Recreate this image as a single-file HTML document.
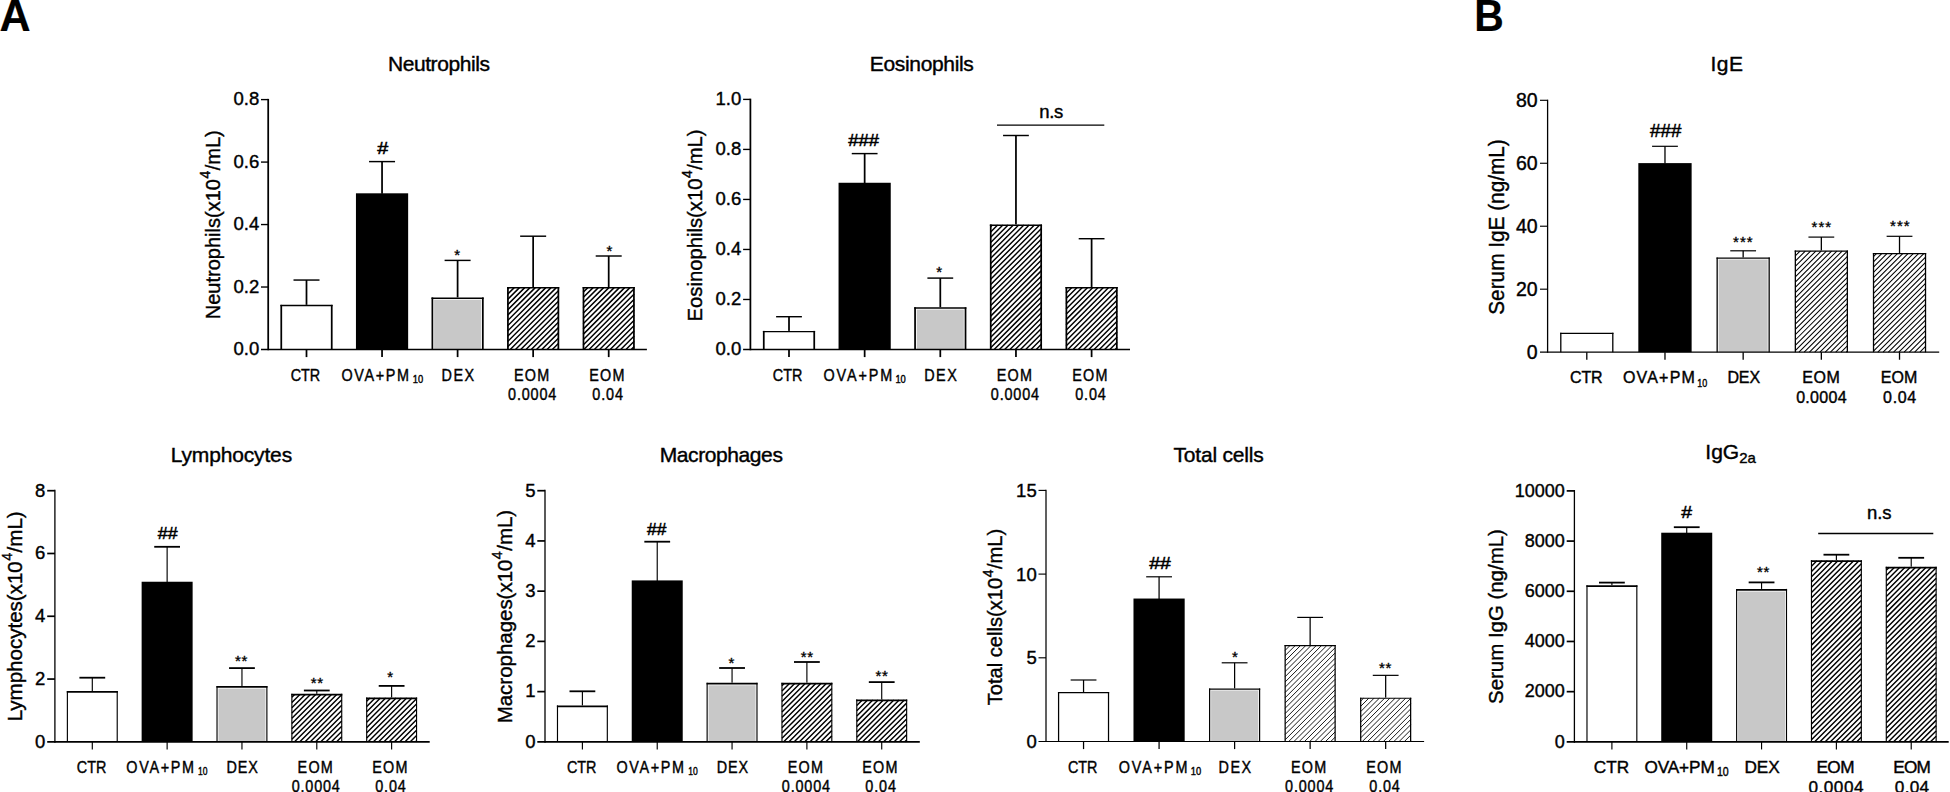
<!DOCTYPE html>
<html lang="en"><head><meta charset="utf-8"><title>Figure: BALF cell counts and serum immunoglobulins</title>
<style>html,body{margin:0;padding:0;background:#fff;overflow:hidden}svg{display:block}text{font-family:"Liberation Sans", Arial, Helvetica, sans-serif;fill:#000;stroke:#000;stroke-width:0.4px;paint-order:stroke}text.s{stroke-width:0.5px}text.a{stroke-width:0.35px}text.p{stroke-width:0.2px}</style></head><body>
<svg width="1950" height="792" viewBox="0 0 1950 792">
<rect width="1950" height="792" fill="#fff"/>
<text transform="translate(-0.4 30.6) scale(0.99 1)" font-size="43.5" font-weight="bold" class="p">A</text>
<text transform="translate(1474.3 30.6) scale(0.94 1)" font-size="43.5" font-weight="bold" class="p">B</text>
<g><!-- Neutrophils -->
<text x="438.9" y="71.2" font-size="21" text-anchor="middle" textLength="102" lengthAdjust="spacing">Neutrophils</text>
<text transform="translate(219.5 224.8) rotate(-90)" font-size="21" text-anchor="middle" textLength="189" lengthAdjust="spacingAndGlyphs">Neutrophils(x10<tspan dx="0.5" dy="-9.5" font-size="14.5">4</tspan><tspan dx="0.5" dy="9.5">/mL)</tspan></text>
<line x1="306.5" y1="305.36" x2="306.5" y2="280.05" stroke="#000" stroke-width="1.75"/>
<line x1="293.5" y1="280.05" x2="319.5" y2="280.05" stroke="#000" stroke-width="1.45"/>
<rect x="280.4" y="304.86" width="52.2" height="44.64" fill="#fff"/>
<line x1="281.27" y1="304.86" x2="281.27" y2="349.5" stroke="#000" stroke-width="1.75"/>
<line x1="331.73" y1="304.86" x2="331.73" y2="349.5" stroke="#000" stroke-width="1.75"/>
<line x1="280.4" y1="305.59" x2="332.6" y2="305.59" stroke="#000" stroke-width="1.45"/>
<line x1="382.05" y1="193.81" x2="382.05" y2="161.6" stroke="#000" stroke-width="1.75"/>
<line x1="369.05" y1="161.6" x2="395.05" y2="161.6" stroke="#000" stroke-width="1.45"/>
<rect x="355.95" y="193.31" width="52.2" height="156.19" fill="#000"/>
<line x1="457.6" y1="297.93" x2="457.6" y2="260.4" stroke="#000" stroke-width="1.75"/>
<line x1="444.6" y1="260.4" x2="470.6" y2="260.4" stroke="#000" stroke-width="1.45"/>
<rect x="431.5" y="297.43" width="52.2" height="52.07" fill="#fff"/>
<rect x="434.1" y="299.73" width="47" height="49.77" fill="#c8c8c8"/>
<line x1="432.38" y1="297.43" x2="432.38" y2="349.5" stroke="#000" stroke-width="1.75"/>
<line x1="482.83" y1="297.43" x2="482.83" y2="349.5" stroke="#000" stroke-width="1.75"/>
<line x1="431.5" y1="298.15" x2="483.7" y2="298.15" stroke="#000" stroke-width="1.45"/>
<line x1="533.15" y1="287.52" x2="533.15" y2="236.2" stroke="#000" stroke-width="1.75"/>
<line x1="520.15" y1="236.2" x2="546.15" y2="236.2" stroke="#000" stroke-width="1.45"/>
<rect x="507.05" y="287.02" width="52.2" height="62.48" fill="#fff"/>
<path d="M507.65 288.95L508.97 287.62M507.65 294.21L514.23 287.62M507.65 299.47L519.49 287.62M507.65 304.73L524.75 287.62M507.65 309.99L530.01 287.62M507.65 315.25L535.27 287.62M507.65 320.51L540.53 287.62M507.65 325.77L545.79 287.62M507.65 331.03L551.05 287.62M507.65 336.29L556.31 287.62M507.65 341.55L558.65 290.55M507.65 346.81L558.65 295.81M510.22 349.5L558.65 301.07M515.48 349.5L558.65 306.33M520.74 349.5L558.65 311.59M526 349.5L558.65 316.85M531.26 349.5L558.65 322.11M536.52 349.5L558.65 327.37M541.78 349.5L558.65 332.63M547.04 349.5L558.65 337.89M552.3 349.5L558.65 343.15M557.56 349.5L558.65 348.41" stroke="#000" stroke-width="1.45" fill="none"/>
<line x1="507.92" y1="287.02" x2="507.92" y2="349.5" stroke="#000" stroke-width="1.75"/>
<line x1="558.38" y1="287.02" x2="558.38" y2="349.5" stroke="#000" stroke-width="1.75"/>
<line x1="507.05" y1="287.75" x2="559.25" y2="287.75" stroke="#000" stroke-width="1.45"/>
<line x1="608.7" y1="287.52" x2="608.7" y2="256" stroke="#000" stroke-width="1.75"/>
<line x1="595.7" y1="256" x2="621.7" y2="256" stroke="#000" stroke-width="1.45"/>
<rect x="582.6" y="287.02" width="52.2" height="62.48" fill="#fff"/>
<path d="M583.2 292.3L587.88 287.62M583.2 297.56L593.13 287.62M583.2 302.82L598.39 287.62M583.2 308.08L603.65 287.62M583.2 313.34L608.91 287.62M583.2 318.6L614.17 287.62M583.2 323.86L619.43 287.62M583.2 329.12L624.69 287.62M583.2 334.38L629.95 287.62M583.2 339.64L634.2 288.64M583.2 344.9L634.2 293.9M583.86 349.5L634.2 299.16M589.12 349.5L634.2 304.42M594.38 349.5L634.2 309.68M599.64 349.5L634.2 314.94M604.9 349.5L634.2 320.2M610.16 349.5L634.2 325.46M615.42 349.5L634.2 330.72M620.68 349.5L634.2 335.98M625.94 349.5L634.2 341.24M631.2 349.5L634.2 346.5" stroke="#000" stroke-width="1.45" fill="none"/>
<line x1="583.48" y1="287.02" x2="583.48" y2="349.5" stroke="#000" stroke-width="1.75"/>
<line x1="633.93" y1="287.02" x2="633.93" y2="349.5" stroke="#000" stroke-width="1.75"/>
<line x1="582.6" y1="287.75" x2="634.8" y2="287.75" stroke="#000" stroke-width="1.45"/>
<line x1="268.2" y1="98.88" x2="268.2" y2="350.23" stroke="#000" stroke-width="1.75"/>
<line x1="261" y1="349.5" x2="646.9" y2="349.5" stroke="#000" stroke-width="1.45"/>
<text x="259.2" y="355.3" font-size="19" text-anchor="end" textLength="25.75" lengthAdjust="spacingAndGlyphs">0.0</text>
<line x1="261" y1="287.02" x2="268.2" y2="287.02" stroke="#000" stroke-width="1.38"/>
<text x="259.2" y="292.82" font-size="19" text-anchor="end" textLength="25.75" lengthAdjust="spacingAndGlyphs">0.2</text>
<line x1="261" y1="224.55" x2="268.2" y2="224.55" stroke="#000" stroke-width="1.38"/>
<text x="259.2" y="230.35" font-size="19" text-anchor="end" textLength="25.75" lengthAdjust="spacingAndGlyphs">0.4</text>
<line x1="261" y1="162.08" x2="268.2" y2="162.08" stroke="#000" stroke-width="1.38"/>
<text x="259.2" y="167.88" font-size="19" text-anchor="end" textLength="25.75" lengthAdjust="spacingAndGlyphs">0.6</text>
<line x1="261" y1="99.6" x2="268.2" y2="99.6" stroke="#000" stroke-width="1.38"/>
<text x="259.2" y="105.4" font-size="19" text-anchor="end" textLength="25.75" lengthAdjust="spacingAndGlyphs">0.8</text>
<line x1="306.5" y1="349.5" x2="306.5" y2="357.1" stroke="#000" stroke-width="1.75"/>
<line x1="382.05" y1="349.5" x2="382.05" y2="357.1" stroke="#000" stroke-width="1.75"/>
<line x1="457.6" y1="349.5" x2="457.6" y2="357.1" stroke="#000" stroke-width="1.75"/>
<line x1="533.15" y1="349.5" x2="533.15" y2="357.1" stroke="#000" stroke-width="1.75"/>
<line x1="608.7" y1="349.5" x2="608.7" y2="357.1" stroke="#000" stroke-width="1.75"/>
<text transform="translate(305.4 380.9) scale(0.9 1)" font-size="16" text-anchor="middle" textLength="32.78" lengthAdjust="spacing">CTR</text>
<text transform="translate(341.45 380.9) scale(0.9 1)" font-size="16" text-anchor="start"><tspan textLength="75">OVA+PM</tspan><tspan dx="2.44" dy="1.8" font-size="10.5" textLength="11.56" lengthAdjust="spacingAndGlyphs">10</tspan></text>
<text transform="translate(457.8 380.9) scale(0.9 1)" font-size="16" text-anchor="middle" textLength="36.22" lengthAdjust="spacing">DEX</text>
<text transform="translate(531.55 380.9) scale(0.9 1)" font-size="16" text-anchor="middle" textLength="39.11" lengthAdjust="spacing">EOM</text>
<text transform="translate(532.15 400) scale(0.9 1)" font-size="16" text-anchor="middle" textLength="53.56" lengthAdjust="spacing">0.0004</text>
<text transform="translate(606.9 380.9) scale(0.9 1)" font-size="16" text-anchor="middle" textLength="39.11" lengthAdjust="spacing">EOM</text>
<text transform="translate(607.6 400) scale(0.9 1)" font-size="16" text-anchor="middle" textLength="34" lengthAdjust="spacing">0.04</text>
<text x="382.85" y="154.35" font-size="16.3" text-anchor="middle" textLength="11" lengthAdjust="spacingAndGlyphs" class="s">#</text>
<text x="457.25" y="260.15" font-size="15" text-anchor="middle" class="a">*</text>
<text x="609.35" y="255.75" font-size="15" text-anchor="middle" class="a">*</text>
</g>
<g><!-- Eosinophils -->
<text x="921.8" y="71.2" font-size="21" text-anchor="middle" textLength="104" lengthAdjust="spacing">Eosinophils</text>
<text transform="translate(701.5 225.4) rotate(-90)" font-size="21" text-anchor="middle" textLength="192" lengthAdjust="spacingAndGlyphs">Eosinophils(x10<tspan dx="0.5" dy="-9.5" font-size="14.5">4</tspan><tspan dx="0.5" dy="9.5">/mL)</tspan></text>
<line x1="789" y1="331.39" x2="789" y2="316.7" stroke="#000" stroke-width="1.75"/>
<line x1="776.1" y1="316.7" x2="801.9" y2="316.7" stroke="#000" stroke-width="1.45"/>
<rect x="762.9" y="330.89" width="52.2" height="18.61" fill="#fff"/>
<line x1="763.77" y1="330.89" x2="763.77" y2="349.5" stroke="#000" stroke-width="1.75"/>
<line x1="814.23" y1="330.89" x2="814.23" y2="349.5" stroke="#000" stroke-width="1.75"/>
<line x1="762.9" y1="331.62" x2="815.1" y2="331.62" stroke="#000" stroke-width="1.45"/>
<line x1="864.65" y1="183.26" x2="864.65" y2="153.6" stroke="#000" stroke-width="1.75"/>
<line x1="851.75" y1="153.6" x2="877.55" y2="153.6" stroke="#000" stroke-width="1.45"/>
<rect x="838.55" y="182.76" width="52.2" height="166.74" fill="#000"/>
<line x1="940.3" y1="307.81" x2="940.3" y2="278.1" stroke="#000" stroke-width="1.75"/>
<line x1="927.4" y1="278.1" x2="953.2" y2="278.1" stroke="#000" stroke-width="1.45"/>
<rect x="914.2" y="307.31" width="52.2" height="42.19" fill="#fff"/>
<rect x="916.8" y="309.61" width="47" height="39.89" fill="#c8c8c8"/>
<line x1="915.07" y1="307.31" x2="915.07" y2="349.5" stroke="#000" stroke-width="1.75"/>
<line x1="965.52" y1="307.31" x2="965.52" y2="349.5" stroke="#000" stroke-width="1.75"/>
<line x1="914.2" y1="308.03" x2="966.4" y2="308.03" stroke="#000" stroke-width="1.45"/>
<line x1="1015.95" y1="224.95" x2="1015.95" y2="135.5" stroke="#000" stroke-width="1.75"/>
<line x1="1003.05" y1="135.5" x2="1028.85" y2="135.5" stroke="#000" stroke-width="1.45"/>
<rect x="989.85" y="224.45" width="52.2" height="125.05" fill="#fff"/>
<path d="M990.45 226.95L992.35 225.05M990.45 232.21L997.61 225.05M990.45 237.47L1002.87 225.05M990.45 242.73L1008.13 225.05M990.45 247.99L1013.39 225.05M990.45 253.25L1018.65 225.05M990.45 258.51L1023.91 225.05M990.45 263.77L1029.17 225.05M990.45 269.03L1034.43 225.05M990.45 274.29L1039.69 225.05M990.45 279.55L1041.45 228.55M990.45 284.81L1041.45 233.81M990.45 290.07L1041.45 239.07M990.45 295.33L1041.45 244.33M990.45 300.59L1041.45 249.59M990.45 305.85L1041.45 254.85M990.45 311.11L1041.45 260.11M990.45 316.37L1041.45 265.37M990.45 321.63L1041.45 270.63M990.45 326.89L1041.45 275.89M990.45 332.15L1041.45 281.15M990.45 337.41L1041.45 286.41M990.45 342.67L1041.45 291.67M990.45 347.93L1041.45 296.93M994.14 349.5L1041.45 302.19M999.4 349.5L1041.45 307.45M1004.66 349.5L1041.45 312.71M1009.92 349.5L1041.45 317.97M1015.18 349.5L1041.45 323.23M1020.44 349.5L1041.45 328.49M1025.7 349.5L1041.45 333.75M1030.96 349.5L1041.45 339.01M1036.22 349.5L1041.45 344.27" stroke="#000" stroke-width="1.45" fill="none"/>
<line x1="990.73" y1="224.45" x2="990.73" y2="349.5" stroke="#000" stroke-width="1.75"/>
<line x1="1041.17" y1="224.45" x2="1041.17" y2="349.5" stroke="#000" stroke-width="1.75"/>
<line x1="989.85" y1="225.17" x2="1042.05" y2="225.17" stroke="#000" stroke-width="1.45"/>
<line x1="1091.6" y1="287.48" x2="1091.6" y2="238.7" stroke="#000" stroke-width="1.75"/>
<line x1="1078.7" y1="238.7" x2="1104.5" y2="238.7" stroke="#000" stroke-width="1.45"/>
<rect x="1065.5" y="286.98" width="52.2" height="62.52" fill="#fff"/>
<path d="M1066.1 288.06L1066.59 287.58M1066.1 293.32L1071.84 287.58M1066.1 298.58L1077.11 287.58M1066.1 303.84L1082.36 287.58M1066.1 309.1L1087.62 287.58M1066.1 314.36L1092.88 287.58M1066.1 319.62L1098.14 287.58M1066.1 324.88L1103.4 287.58M1066.1 330.14L1108.66 287.58M1066.1 335.4L1113.92 287.58M1066.1 340.66L1117.1 289.66M1066.1 345.92L1117.1 294.92M1067.78 349.5L1117.1 300.18M1073.04 349.5L1117.1 305.44M1078.3 349.5L1117.1 310.7M1083.56 349.5L1117.1 315.96M1088.82 349.5L1117.1 321.22M1094.08 349.5L1117.1 326.48M1099.34 349.5L1117.1 331.74M1104.6 349.5L1117.1 337M1109.86 349.5L1117.1 342.26M1115.12 349.5L1117.1 347.52" stroke="#000" stroke-width="1.45" fill="none"/>
<line x1="1066.38" y1="286.98" x2="1066.38" y2="349.5" stroke="#000" stroke-width="1.75"/>
<line x1="1116.82" y1="286.98" x2="1116.82" y2="349.5" stroke="#000" stroke-width="1.75"/>
<line x1="1065.5" y1="287.7" x2="1117.7" y2="287.7" stroke="#000" stroke-width="1.45"/>
<line x1="750.4" y1="98.68" x2="750.4" y2="350.23" stroke="#000" stroke-width="1.75"/>
<line x1="743.1" y1="349.5" x2="1130" y2="349.5" stroke="#000" stroke-width="1.45"/>
<text x="741.3" y="355.3" font-size="19" text-anchor="end" textLength="25.75" lengthAdjust="spacingAndGlyphs">0.0</text>
<line x1="743.1" y1="299.48" x2="750.4" y2="299.48" stroke="#000" stroke-width="1.38"/>
<text x="741.3" y="305.28" font-size="19" text-anchor="end" textLength="25.75" lengthAdjust="spacingAndGlyphs">0.2</text>
<line x1="743.1" y1="249.46" x2="750.4" y2="249.46" stroke="#000" stroke-width="1.38"/>
<text x="741.3" y="255.26" font-size="19" text-anchor="end" textLength="25.75" lengthAdjust="spacingAndGlyphs">0.4</text>
<line x1="743.1" y1="199.44" x2="750.4" y2="199.44" stroke="#000" stroke-width="1.38"/>
<text x="741.3" y="205.24" font-size="19" text-anchor="end" textLength="25.75" lengthAdjust="spacingAndGlyphs">0.6</text>
<line x1="743.1" y1="149.42" x2="750.4" y2="149.42" stroke="#000" stroke-width="1.38"/>
<text x="741.3" y="155.22" font-size="19" text-anchor="end" textLength="25.75" lengthAdjust="spacingAndGlyphs">0.8</text>
<line x1="743.1" y1="99.4" x2="750.4" y2="99.4" stroke="#000" stroke-width="1.38"/>
<text x="741.3" y="105.2" font-size="19" text-anchor="end" textLength="25.75" lengthAdjust="spacingAndGlyphs">1.0</text>
<line x1="789" y1="349.5" x2="789" y2="357.1" stroke="#000" stroke-width="1.75"/>
<line x1="864.65" y1="349.5" x2="864.65" y2="357.1" stroke="#000" stroke-width="1.75"/>
<line x1="940.3" y1="349.5" x2="940.3" y2="357.1" stroke="#000" stroke-width="1.75"/>
<line x1="1015.95" y1="349.5" x2="1015.95" y2="357.1" stroke="#000" stroke-width="1.75"/>
<line x1="1091.6" y1="349.5" x2="1091.6" y2="357.1" stroke="#000" stroke-width="1.75"/>
<text transform="translate(787.6 380.9) scale(0.9 1)" font-size="16" text-anchor="middle" textLength="32.78" lengthAdjust="spacing">CTR</text>
<text transform="translate(823.45 380.9) scale(0.9 1)" font-size="16" text-anchor="start"><tspan textLength="76.44">OVA+PM</tspan><tspan dx="1.44" dy="1.8" font-size="10.5" textLength="11.56" lengthAdjust="spacingAndGlyphs">10</tspan></text>
<text transform="translate(940.5 380.9) scale(0.9 1)" font-size="16" text-anchor="middle" textLength="36.22" lengthAdjust="spacing">DEX</text>
<text transform="translate(1014.35 380.9) scale(0.9 1)" font-size="16" text-anchor="middle" textLength="39.11" lengthAdjust="spacing">EOM</text>
<text transform="translate(1014.95 400) scale(0.9 1)" font-size="16" text-anchor="middle" textLength="53.56" lengthAdjust="spacing">0.0004</text>
<text transform="translate(1089.8 380.9) scale(0.9 1)" font-size="16" text-anchor="middle" textLength="39.11" lengthAdjust="spacing">EOM</text>
<text transform="translate(1090.5 400) scale(0.9 1)" font-size="16" text-anchor="middle" textLength="34" lengthAdjust="spacing">0.04</text>
<text x="863.6" y="146.45" font-size="16.5" text-anchor="middle" textLength="30.7" lengthAdjust="spacingAndGlyphs" class="s">###</text>
<text x="939.2" y="276.9" font-size="15" text-anchor="middle" class="a">*</text>
<text x="1051.25" y="117.5" font-size="18.5" text-anchor="middle" textLength="24" lengthAdjust="spacing">n.s</text>
<line x1="997" y1="125.1" x2="1104.3" y2="125.1" stroke="#000" stroke-width="1.3"/>
</g>
<g><!-- Lymphocytes -->
<text x="231.45" y="462.4" font-size="21" text-anchor="middle" textLength="121.4" lengthAdjust="spacing">Lymphocytes</text>
<text transform="translate(21.5 616.35) rotate(-90)" font-size="21" text-anchor="middle" textLength="210" lengthAdjust="spacingAndGlyphs">Lymphocytes(x10<tspan dx="0.5" dy="-9.5" font-size="14.5">4</tspan><tspan dx="0.5" dy="9.5">/mL)</tspan></text>
<line x1="92.3" y1="691.49" x2="92.3" y2="677.7" stroke="#000" stroke-width="1.15"/>
<line x1="79.4" y1="677.7" x2="105.2" y2="677.7" stroke="#000" stroke-width="1.8"/>
<rect x="66.8" y="690.99" width="51" height="50.86" fill="#fff"/>
<line x1="67.38" y1="690.99" x2="67.38" y2="741.85" stroke="#000" stroke-width="1.15"/>
<line x1="117.22" y1="690.99" x2="117.22" y2="741.85" stroke="#000" stroke-width="1.15"/>
<line x1="66.8" y1="691.89" x2="117.8" y2="691.89" stroke="#000" stroke-width="1.8"/>
<line x1="167.13" y1="582.24" x2="167.13" y2="546.8" stroke="#000" stroke-width="1.15"/>
<line x1="154.23" y1="546.8" x2="180.03" y2="546.8" stroke="#000" stroke-width="1.8"/>
<rect x="141.63" y="581.74" width="51" height="160.11" fill="#000"/>
<line x1="241.96" y1="686.47" x2="241.96" y2="668.1" stroke="#000" stroke-width="1.15"/>
<line x1="229.06" y1="668.1" x2="254.86" y2="668.1" stroke="#000" stroke-width="1.8"/>
<rect x="216.46" y="685.97" width="51" height="55.88" fill="#fff"/>
<rect x="218.46" y="688.62" width="47" height="53.23" fill="#c8c8c8"/>
<line x1="217.03" y1="685.97" x2="217.03" y2="741.85" stroke="#000" stroke-width="1.15"/>
<line x1="266.88" y1="685.97" x2="266.88" y2="741.85" stroke="#000" stroke-width="1.15"/>
<line x1="216.46" y1="686.87" x2="267.46" y2="686.87" stroke="#000" stroke-width="1.8"/>
<line x1="316.79" y1="694.32" x2="316.79" y2="690.5" stroke="#000" stroke-width="1.15"/>
<line x1="303.89" y1="690.5" x2="329.69" y2="690.5" stroke="#000" stroke-width="1.8"/>
<rect x="291.29" y="693.82" width="51" height="48.03" fill="#fff"/>
<path d="M291.89 697.18L294.65 694.42M291.89 702.44L299.91 694.42M291.89 707.7L305.17 694.42M291.89 712.96L310.43 694.42M291.89 718.22L315.69 694.42M291.89 723.48L320.95 694.42M291.89 728.74L326.21 694.42M291.89 734L331.47 694.42M291.89 739.26L336.73 694.42M294.56 741.85L341.69 694.72M299.82 741.85L341.69 699.98M305.08 741.85L341.69 705.24M310.34 741.85L341.69 710.5M315.6 741.85L341.69 715.76M320.86 741.85L341.69 721.02M326.12 741.85L341.69 726.28M331.38 741.85L341.69 731.54M336.64 741.85L341.69 736.8" stroke="#000" stroke-width="1.45" fill="none"/>
<line x1="291.87" y1="693.82" x2="291.87" y2="741.85" stroke="#000" stroke-width="1.15"/>
<line x1="341.72" y1="693.82" x2="341.72" y2="741.85" stroke="#000" stroke-width="1.15"/>
<line x1="291.29" y1="694.72" x2="342.29" y2="694.72" stroke="#000" stroke-width="1.8"/>
<line x1="391.62" y1="697.99" x2="391.62" y2="685.9" stroke="#000" stroke-width="1.15"/>
<line x1="378.72" y1="685.9" x2="404.52" y2="685.9" stroke="#000" stroke-width="1.8"/>
<rect x="366.12" y="697.49" width="51" height="44.36" fill="#fff"/>
<path d="M366.72 701.25L369.88 698.09M366.72 706.51L375.14 698.09M366.72 711.77L380.4 698.09M366.72 717.03L385.66 698.09M366.72 722.29L390.92 698.09M366.72 727.55L396.18 698.09M366.72 732.81L401.44 698.09M366.72 738.07L406.7 698.09M368.2 741.85L411.96 698.09M373.46 741.85L416.52 698.79M378.72 741.85L416.52 704.05M383.98 741.85L416.52 709.31M389.24 741.85L416.52 714.57M394.5 741.85L416.52 719.83M399.76 741.85L416.52 725.09M405.02 741.85L416.52 730.35M410.28 741.85L416.52 735.61M415.54 741.85L416.52 740.87" stroke="#000" stroke-width="1.45" fill="none"/>
<line x1="366.69" y1="697.49" x2="366.69" y2="741.85" stroke="#000" stroke-width="1.15"/>
<line x1="416.55" y1="697.49" x2="416.55" y2="741.85" stroke="#000" stroke-width="1.15"/>
<line x1="366.12" y1="698.39" x2="417.12" y2="698.39" stroke="#000" stroke-width="1.8"/>
<line x1="54.9" y1="489.8" x2="54.9" y2="742.75" stroke="#000" stroke-width="1.3"/>
<line x1="47.2" y1="741.85" x2="429.7" y2="741.85" stroke="#000" stroke-width="1.8"/>
<text x="45.4" y="747.65" font-size="19" text-anchor="end" textLength="10.3" lengthAdjust="spacingAndGlyphs">0</text>
<line x1="47.2" y1="679.06" x2="54.9" y2="679.06" stroke="#000" stroke-width="1.71"/>
<text x="45.4" y="684.86" font-size="19" text-anchor="end" textLength="10.3" lengthAdjust="spacingAndGlyphs">2</text>
<line x1="47.2" y1="616.27" x2="54.9" y2="616.27" stroke="#000" stroke-width="1.71"/>
<text x="45.4" y="622.07" font-size="19" text-anchor="end" textLength="10.3" lengthAdjust="spacingAndGlyphs">4</text>
<line x1="47.2" y1="553.49" x2="54.9" y2="553.49" stroke="#000" stroke-width="1.71"/>
<text x="45.4" y="559.29" font-size="19" text-anchor="end" textLength="10.3" lengthAdjust="spacingAndGlyphs">6</text>
<line x1="47.2" y1="490.7" x2="54.9" y2="490.7" stroke="#000" stroke-width="1.71"/>
<text x="45.4" y="496.5" font-size="19" text-anchor="end" textLength="10.3" lengthAdjust="spacingAndGlyphs">8</text>
<line x1="92.3" y1="741.85" x2="92.3" y2="749.45" stroke="#000" stroke-width="1.15"/>
<line x1="167.13" y1="741.85" x2="167.13" y2="749.45" stroke="#000" stroke-width="1.15"/>
<line x1="241.96" y1="741.85" x2="241.96" y2="749.45" stroke="#000" stroke-width="1.15"/>
<line x1="316.79" y1="741.85" x2="316.79" y2="749.45" stroke="#000" stroke-width="1.15"/>
<line x1="391.62" y1="741.85" x2="391.62" y2="749.45" stroke="#000" stroke-width="1.15"/>
<text transform="translate(91.6 773.1) scale(0.9 1)" font-size="16" text-anchor="middle" textLength="32.78" lengthAdjust="spacing">CTR</text>
<text transform="translate(126.33 773.1) scale(0.9 1)" font-size="16" text-anchor="start"><tspan textLength="75.22">OVA+PM</tspan><tspan dx="2.67" dy="1.6" font-size="10.5" textLength="10.56" lengthAdjust="spacingAndGlyphs">10</tspan></text>
<text transform="translate(242.26 773.1) scale(0.9 1)" font-size="16" text-anchor="middle" textLength="34.89" lengthAdjust="spacing">DEX</text>
<text transform="translate(315.19 773.1) scale(0.9 1)" font-size="16" text-anchor="middle" textLength="39.11" lengthAdjust="spacing">EOM</text>
<text transform="translate(315.79 792.2) scale(0.9 1)" font-size="16" text-anchor="middle" textLength="53.56" lengthAdjust="spacing">0.0004</text>
<text transform="translate(389.82 773.1) scale(0.9 1)" font-size="16" text-anchor="middle" textLength="39.11" lengthAdjust="spacing">EOM</text>
<text transform="translate(390.52 792.2) scale(0.9 1)" font-size="16" text-anchor="middle" textLength="34" lengthAdjust="spacing">0.04</text>
<text x="167.65" y="539.45" font-size="16.5" text-anchor="middle" textLength="19.8" lengthAdjust="spacingAndGlyphs" class="s">##</text>
<text x="241.1" y="666.4" font-size="15" text-anchor="middle" textLength="12.4" lengthAdjust="spacing" class="a">**</text>
<text x="316.95" y="687.85" font-size="15" text-anchor="middle" textLength="12.4" lengthAdjust="spacing" class="a">**</text>
<text x="390.05" y="682.4" font-size="15" text-anchor="middle" class="a">*</text>
</g>
<g><!-- Macrophages -->
<text x="721.3" y="462.4" font-size="21" text-anchor="middle" textLength="123.2" lengthAdjust="spacing">Macrophages</text>
<text transform="translate(511.8 616.6) rotate(-90)" font-size="21" text-anchor="middle" textLength="213.4" lengthAdjust="spacingAndGlyphs">Macrophages(x10<tspan dx="0.5" dy="-9.5" font-size="14.5">4</tspan><tspan dx="0.5" dy="9.5">/mL)</tspan></text>
<line x1="582.4" y1="705.93" x2="582.4" y2="691.3" stroke="#000" stroke-width="1.15"/>
<line x1="569.5" y1="691.3" x2="595.3" y2="691.3" stroke="#000" stroke-width="1.8"/>
<rect x="556.9" y="705.43" width="51" height="36.42" fill="#fff"/>
<line x1="557.48" y1="705.43" x2="557.48" y2="741.85" stroke="#000" stroke-width="1.15"/>
<line x1="607.32" y1="705.43" x2="607.32" y2="741.85" stroke="#000" stroke-width="1.15"/>
<line x1="556.9" y1="706.33" x2="607.9" y2="706.33" stroke="#000" stroke-width="1.8"/>
<line x1="657.23" y1="580.91" x2="657.23" y2="541.7" stroke="#000" stroke-width="1.15"/>
<line x1="644.33" y1="541.7" x2="670.13" y2="541.7" stroke="#000" stroke-width="1.8"/>
<rect x="631.73" y="580.41" width="51" height="161.44" fill="#000"/>
<line x1="732.06" y1="683.18" x2="732.06" y2="668" stroke="#000" stroke-width="1.15"/>
<line x1="719.16" y1="668" x2="744.96" y2="668" stroke="#000" stroke-width="1.8"/>
<rect x="706.56" y="682.68" width="51" height="59.17" fill="#fff"/>
<rect x="708.56" y="685.33" width="47" height="56.52" fill="#c8c8c8"/>
<line x1="707.13" y1="682.68" x2="707.13" y2="741.85" stroke="#000" stroke-width="1.15"/>
<line x1="756.98" y1="682.68" x2="756.98" y2="741.85" stroke="#000" stroke-width="1.15"/>
<line x1="706.56" y1="683.58" x2="757.56" y2="683.58" stroke="#000" stroke-width="1.8"/>
<line x1="806.89" y1="683.18" x2="806.89" y2="662" stroke="#000" stroke-width="1.15"/>
<line x1="793.99" y1="662" x2="819.79" y2="662" stroke="#000" stroke-width="1.8"/>
<rect x="781.39" y="682.68" width="51" height="59.17" fill="#fff"/>
<path d="M781.99 685.74L784.45 683.28M781.99 691L789.71 683.28M781.99 696.26L794.97 683.28M781.99 701.52L800.23 683.28M781.99 706.78L805.49 683.28M781.99 712.04L810.75 683.28M781.99 717.3L816.01 683.28M781.99 722.56L821.27 683.28M781.99 727.82L826.53 683.28M781.99 733.08L831.79 683.28M781.99 738.34L831.79 688.54M783.74 741.85L831.79 693.8M789 741.85L831.79 699.06M794.26 741.85L831.79 704.32M799.52 741.85L831.79 709.58M804.78 741.85L831.79 714.84M810.04 741.85L831.79 720.1M815.3 741.85L831.79 725.36M820.56 741.85L831.79 730.62M825.82 741.85L831.79 735.88M831.08 741.85L831.79 741.14" stroke="#000" stroke-width="1.45" fill="none"/>
<line x1="781.97" y1="682.68" x2="781.97" y2="741.85" stroke="#000" stroke-width="1.15"/>
<line x1="831.81" y1="682.68" x2="831.81" y2="741.85" stroke="#000" stroke-width="1.15"/>
<line x1="781.39" y1="683.58" x2="832.39" y2="683.58" stroke="#000" stroke-width="1.8"/>
<line x1="881.72" y1="700.01" x2="881.72" y2="682.1" stroke="#000" stroke-width="1.15"/>
<line x1="868.82" y1="682.1" x2="894.62" y2="682.1" stroke="#000" stroke-width="1.8"/>
<rect x="856.22" y="699.51" width="51" height="42.34" fill="#fff"/>
<path d="M856.82 700.33L857.04 700.11M856.82 705.59L862.3 700.11M856.82 710.85L867.56 700.11M856.82 716.11L872.82 700.11M856.82 721.37L878.08 700.11M856.82 726.63L883.34 700.11M856.82 731.89L888.6 700.11M856.82 737.15L893.86 700.11M857.38 741.85L899.12 700.11M862.64 741.85L904.38 700.11M867.9 741.85L906.62 703.13M873.16 741.85L906.62 708.39M878.42 741.85L906.62 713.65M883.68 741.85L906.62 718.91M888.94 741.85L906.62 724.17M894.2 741.85L906.62 729.43M899.46 741.85L906.62 734.69M904.72 741.85L906.62 739.95" stroke="#000" stroke-width="1.45" fill="none"/>
<line x1="856.8" y1="699.51" x2="856.8" y2="741.85" stroke="#000" stroke-width="1.15"/>
<line x1="906.64" y1="699.51" x2="906.64" y2="741.85" stroke="#000" stroke-width="1.15"/>
<line x1="856.22" y1="700.41" x2="907.22" y2="700.41" stroke="#000" stroke-width="1.8"/>
<line x1="545" y1="489.8" x2="545" y2="742.75" stroke="#000" stroke-width="1.3"/>
<line x1="537.3" y1="741.85" x2="919.8" y2="741.85" stroke="#000" stroke-width="1.8"/>
<text x="535.5" y="747.65" font-size="19" text-anchor="end" textLength="10.3" lengthAdjust="spacingAndGlyphs">0</text>
<line x1="537.3" y1="691.62" x2="545" y2="691.62" stroke="#000" stroke-width="1.71"/>
<text x="535.5" y="697.42" font-size="19" text-anchor="end" textLength="10.3" lengthAdjust="spacingAndGlyphs">1</text>
<line x1="537.3" y1="641.39" x2="545" y2="641.39" stroke="#000" stroke-width="1.71"/>
<text x="535.5" y="647.19" font-size="19" text-anchor="end" textLength="10.3" lengthAdjust="spacingAndGlyphs">2</text>
<line x1="537.3" y1="591.16" x2="545" y2="591.16" stroke="#000" stroke-width="1.71"/>
<text x="535.5" y="596.96" font-size="19" text-anchor="end" textLength="10.3" lengthAdjust="spacingAndGlyphs">3</text>
<line x1="537.3" y1="540.93" x2="545" y2="540.93" stroke="#000" stroke-width="1.71"/>
<text x="535.5" y="546.73" font-size="19" text-anchor="end" textLength="10.3" lengthAdjust="spacingAndGlyphs">4</text>
<line x1="537.3" y1="490.7" x2="545" y2="490.7" stroke="#000" stroke-width="1.71"/>
<text x="535.5" y="496.5" font-size="19" text-anchor="end" textLength="10.3" lengthAdjust="spacingAndGlyphs">5</text>
<line x1="582.4" y1="741.85" x2="582.4" y2="749.45" stroke="#000" stroke-width="1.15"/>
<line x1="657.23" y1="741.85" x2="657.23" y2="749.45" stroke="#000" stroke-width="1.15"/>
<line x1="732.06" y1="741.85" x2="732.06" y2="749.45" stroke="#000" stroke-width="1.15"/>
<line x1="806.89" y1="741.85" x2="806.89" y2="749.45" stroke="#000" stroke-width="1.15"/>
<line x1="881.72" y1="741.85" x2="881.72" y2="749.45" stroke="#000" stroke-width="1.15"/>
<text transform="translate(581.7 773.1) scale(0.9 1)" font-size="16" text-anchor="middle" textLength="32.78" lengthAdjust="spacing">CTR</text>
<text transform="translate(616.43 773.1) scale(0.9 1)" font-size="16" text-anchor="start"><tspan textLength="75.22">OVA+PM</tspan><tspan dx="2.67" dy="1.6" font-size="10.5" textLength="10.56" lengthAdjust="spacingAndGlyphs">10</tspan></text>
<text transform="translate(732.36 773.1) scale(0.9 1)" font-size="16" text-anchor="middle" textLength="34.89" lengthAdjust="spacing">DEX</text>
<text transform="translate(805.29 773.1) scale(0.9 1)" font-size="16" text-anchor="middle" textLength="39.11" lengthAdjust="spacing">EOM</text>
<text transform="translate(805.89 792.2) scale(0.9 1)" font-size="16" text-anchor="middle" textLength="53.56" lengthAdjust="spacing">0.0004</text>
<text transform="translate(879.92 773.1) scale(0.9 1)" font-size="16" text-anchor="middle" textLength="39.11" lengthAdjust="spacing">EOM</text>
<text transform="translate(880.62 792.2) scale(0.9 1)" font-size="16" text-anchor="middle" textLength="34" lengthAdjust="spacing">0.04</text>
<text x="656.7" y="535.35" font-size="16" text-anchor="middle" textLength="19.3" lengthAdjust="spacingAndGlyphs" class="s">##</text>
<text x="731.4" y="668.05" font-size="15" text-anchor="middle" class="a">*</text>
<text x="806.95" y="662.05" font-size="15" text-anchor="middle" textLength="12.4" lengthAdjust="spacing" class="a">**</text>
<text x="881.7" y="680.85" font-size="15" text-anchor="middle" textLength="12.4" lengthAdjust="spacing" class="a">**</text>
</g>
<g><!-- Total cells -->
<text x="1218.6" y="462.4" font-size="21" text-anchor="middle" textLength="90.2" lengthAdjust="spacing">Total cells</text>
<text transform="translate(1002 617.1) rotate(-90)" font-size="21" text-anchor="middle" textLength="176.5" lengthAdjust="spacingAndGlyphs">Total cells(x10<tspan dx="0.5" dy="-9.5" font-size="14.5">4</tspan><tspan dx="0.5" dy="9.5">/mL)</tspan></text>
<line x1="1083.55" y1="692.62" x2="1083.55" y2="680" stroke="#000" stroke-width="1.25"/>
<line x1="1070.65" y1="680" x2="1096.45" y2="680" stroke="#000" stroke-width="1.2"/>
<rect x="1057.95" y="692.12" width="51.2" height="49.38" fill="#fff"/>
<line x1="1058.58" y1="692.12" x2="1058.58" y2="741.5" stroke="#000" stroke-width="1.25"/>
<line x1="1108.52" y1="692.12" x2="1108.52" y2="741.5" stroke="#000" stroke-width="1.25"/>
<line x1="1057.95" y1="692.72" x2="1109.15" y2="692.72" stroke="#000" stroke-width="1.2"/>
<line x1="1159.08" y1="599.04" x2="1159.08" y2="576.8" stroke="#000" stroke-width="1.25"/>
<line x1="1146.18" y1="576.8" x2="1171.98" y2="576.8" stroke="#000" stroke-width="1.2"/>
<rect x="1133.48" y="598.54" width="51.2" height="142.96" fill="#000"/>
<line x1="1234.61" y1="688.93" x2="1234.61" y2="662.8" stroke="#000" stroke-width="1.25"/>
<line x1="1221.71" y1="662.8" x2="1247.51" y2="662.8" stroke="#000" stroke-width="1.2"/>
<rect x="1209.01" y="688.43" width="51.2" height="53.07" fill="#fff"/>
<rect x="1211.11" y="690.48" width="47" height="51.02" fill="#c8c8c8"/>
<line x1="1209.63" y1="688.43" x2="1209.63" y2="741.5" stroke="#000" stroke-width="1.25"/>
<line x1="1259.58" y1="688.43" x2="1259.58" y2="741.5" stroke="#000" stroke-width="1.25"/>
<line x1="1209.01" y1="689.03" x2="1260.21" y2="689.03" stroke="#000" stroke-width="1.2"/>
<line x1="1310.14" y1="645.58" x2="1310.14" y2="617.4" stroke="#000" stroke-width="1.25"/>
<line x1="1297.24" y1="617.4" x2="1323.04" y2="617.4" stroke="#000" stroke-width="1.2"/>
<rect x="1284.54" y="645.08" width="51.2" height="96.42" fill="#fff"/>
<path d="M1285.14 650.38L1289.84 645.68M1285.14 655.64L1295.1 645.68M1285.14 660.9L1300.36 645.68M1285.14 666.16L1305.62 645.68M1285.14 671.42L1310.88 645.68M1285.14 676.68L1316.14 645.68M1285.14 681.94L1321.4 645.68M1285.14 687.2L1326.66 645.68M1285.14 692.46L1331.92 645.68M1285.14 697.72L1335.14 647.72M1285.14 702.98L1335.14 652.98M1285.14 708.24L1335.14 658.24M1285.14 713.5L1335.14 663.5M1285.14 718.76L1335.14 668.76M1285.14 724.02L1335.14 674.02M1285.14 729.28L1335.14 679.28M1285.14 734.54L1335.14 684.54M1285.14 739.8L1335.14 689.8M1288.7 741.5L1335.14 695.06M1293.96 741.5L1335.14 700.32M1299.22 741.5L1335.14 705.58M1304.48 741.5L1335.14 710.84M1309.74 741.5L1335.14 716.1M1315 741.5L1335.14 721.36M1320.26 741.5L1335.14 726.62M1325.52 741.5L1335.14 731.88M1330.78 741.5L1335.14 737.14" stroke="#000" stroke-width="0.9" fill="none"/>
<line x1="1285.16" y1="645.08" x2="1285.16" y2="741.5" stroke="#000" stroke-width="1.25"/>
<line x1="1335.11" y1="645.08" x2="1335.11" y2="741.5" stroke="#000" stroke-width="1.25"/>
<line x1="1284.54" y1="645.68" x2="1335.74" y2="645.68" stroke="#000" stroke-width="1.2"/>
<line x1="1385.67" y1="698.14" x2="1385.67" y2="675.35" stroke="#000" stroke-width="1.25"/>
<line x1="1372.77" y1="675.35" x2="1398.57" y2="675.35" stroke="#000" stroke-width="1.2"/>
<rect x="1360.07" y="697.64" width="51.2" height="43.86" fill="#fff"/>
<path d="M1360.67 701.09L1363.52 698.24M1360.67 706.35L1368.78 698.24M1360.67 711.61L1374.04 698.24M1360.67 716.87L1379.3 698.24M1360.67 722.13L1384.56 698.24M1360.67 727.39L1389.82 698.24M1360.67 732.65L1395.08 698.24M1360.67 737.91L1400.34 698.24M1362.34 741.5L1405.6 698.24M1367.6 741.5L1410.67 698.43M1372.86 741.5L1410.67 703.69M1378.12 741.5L1410.67 708.95M1383.38 741.5L1410.67 714.21M1388.64 741.5L1410.67 719.47M1393.9 741.5L1410.67 724.73M1399.16 741.5L1410.67 729.99M1404.42 741.5L1410.67 735.25M1409.68 741.5L1410.67 740.51" stroke="#000" stroke-width="0.9" fill="none"/>
<line x1="1360.7" y1="697.64" x2="1360.7" y2="741.5" stroke="#000" stroke-width="1.25"/>
<line x1="1410.64" y1="697.64" x2="1410.64" y2="741.5" stroke="#000" stroke-width="1.25"/>
<line x1="1360.07" y1="698.24" x2="1411.27" y2="698.24" stroke="#000" stroke-width="1.2"/>
<line x1="1046" y1="489.8" x2="1046" y2="742.1" stroke="#000" stroke-width="1.25"/>
<line x1="1038.5" y1="741.5" x2="1424.1" y2="741.5" stroke="#000" stroke-width="1.2"/>
<text x="1036.7" y="747.9" font-size="19" text-anchor="end" textLength="10.3" lengthAdjust="spacingAndGlyphs">0</text>
<line x1="1038.5" y1="657.8" x2="1046" y2="657.8" stroke="#000" stroke-width="1.14"/>
<text x="1036.7" y="664.2" font-size="19" text-anchor="end" textLength="10.3" lengthAdjust="spacingAndGlyphs">5</text>
<line x1="1038.5" y1="574.1" x2="1046" y2="574.1" stroke="#000" stroke-width="1.14"/>
<text x="1036.7" y="580.5" font-size="19" text-anchor="end" textLength="20.6" lengthAdjust="spacingAndGlyphs">10</text>
<line x1="1038.5" y1="490.4" x2="1046" y2="490.4" stroke="#000" stroke-width="1.14"/>
<text x="1036.7" y="496.8" font-size="19" text-anchor="end" textLength="20.6" lengthAdjust="spacingAndGlyphs">15</text>
<line x1="1083.55" y1="741.5" x2="1083.55" y2="749.1" stroke="#000" stroke-width="1.25"/>
<line x1="1159.08" y1="741.5" x2="1159.08" y2="749.1" stroke="#000" stroke-width="1.25"/>
<line x1="1234.61" y1="741.5" x2="1234.61" y2="749.1" stroke="#000" stroke-width="1.25"/>
<line x1="1310.14" y1="741.5" x2="1310.14" y2="749.1" stroke="#000" stroke-width="1.25"/>
<line x1="1385.67" y1="741.5" x2="1385.67" y2="749.1" stroke="#000" stroke-width="1.25"/>
<text transform="translate(1082.65 773.1) scale(0.9 1)" font-size="16" text-anchor="middle" textLength="32.78" lengthAdjust="spacing">CTR</text>
<text transform="translate(1118.78 773.1) scale(0.9 1)" font-size="16" text-anchor="start"><tspan textLength="76.44">OVA+PM</tspan><tspan dx="1.44" dy="1.8" font-size="10.5" textLength="11.56" lengthAdjust="spacingAndGlyphs">10</tspan></text>
<text transform="translate(1234.81 773.1) scale(0.9 1)" font-size="16" text-anchor="middle" textLength="36.22" lengthAdjust="spacing">DEX</text>
<text transform="translate(1308.54 773.1) scale(0.9 1)" font-size="16" text-anchor="middle" textLength="39.11" lengthAdjust="spacing">EOM</text>
<text transform="translate(1309.14 792.2) scale(0.9 1)" font-size="16" text-anchor="middle" textLength="53.56" lengthAdjust="spacing">0.0004</text>
<text transform="translate(1383.87 773.1) scale(0.9 1)" font-size="16" text-anchor="middle" textLength="39.11" lengthAdjust="spacing">EOM</text>
<text transform="translate(1384.57 792.2) scale(0.9 1)" font-size="16" text-anchor="middle" textLength="34" lengthAdjust="spacing">0.04</text>
<text x="1160.1" y="568.65" font-size="16" text-anchor="middle" textLength="21.5" lengthAdjust="spacingAndGlyphs" class="s">##</text>
<text x="1234.95" y="662.15" font-size="15" text-anchor="middle" class="a">*</text>
<text x="1385.25" y="672.75" font-size="15" text-anchor="middle" textLength="12.4" lengthAdjust="spacing" class="a">**</text>
</g>
<g><!-- IgE -->
<text x="1726.8" y="71.2" font-size="21" text-anchor="middle" textLength="32.4" lengthAdjust="spacing">IgE</text>
<text transform="translate(1503.7 227) rotate(-90)" font-size="22" text-anchor="middle" textLength="175.5" lengthAdjust="spacingAndGlyphs">Serum IgE (ng/mL)</text>
<rect x="1560.15" y="332.79" width="53.3" height="19.36" fill="#fff"/>
<line x1="1560.8" y1="332.79" x2="1560.8" y2="352.15" stroke="#000" stroke-width="1.3"/>
<line x1="1612.8" y1="332.79" x2="1612.8" y2="352.15" stroke="#000" stroke-width="1.3"/>
<line x1="1560.15" y1="333.39" x2="1613.45" y2="333.39" stroke="#000" stroke-width="1.2"/>
<line x1="1664.98" y1="163.61" x2="1664.98" y2="146.3" stroke="#000" stroke-width="1.3"/>
<line x1="1652.08" y1="146.3" x2="1677.88" y2="146.3" stroke="#000" stroke-width="1.2"/>
<rect x="1638.33" y="163.11" width="53.3" height="189.04" fill="#000"/>
<line x1="1743.16" y1="257.99" x2="1743.16" y2="250.8" stroke="#000" stroke-width="1.3"/>
<line x1="1730.26" y1="250.8" x2="1756.06" y2="250.8" stroke="#000" stroke-width="1.2"/>
<rect x="1716.51" y="257.49" width="53.3" height="94.66" fill="#fff"/>
<rect x="1718.66" y="259.54" width="49" height="92.61" fill="#c8c8c8"/>
<line x1="1717.16" y1="257.49" x2="1717.16" y2="352.15" stroke="#000" stroke-width="1.3"/>
<line x1="1769.16" y1="257.49" x2="1769.16" y2="352.15" stroke="#000" stroke-width="1.3"/>
<line x1="1716.51" y1="258.09" x2="1769.81" y2="258.09" stroke="#000" stroke-width="1.2"/>
<line x1="1821.34" y1="250.97" x2="1821.34" y2="237.1" stroke="#000" stroke-width="1.3"/>
<line x1="1808.44" y1="237.1" x2="1834.24" y2="237.1" stroke="#000" stroke-width="1.2"/>
<rect x="1794.69" y="250.47" width="53.3" height="101.68" fill="#fff"/>
<path d="M1795.29 255.84L1800.06 251.07M1795.29 261.1L1805.32 251.07M1795.29 266.36L1810.58 251.07M1795.29 271.62L1815.84 251.07M1795.29 276.88L1821.1 251.07M1795.29 282.14L1826.36 251.07M1795.29 287.4L1831.62 251.07M1795.29 292.66L1836.88 251.07M1795.29 297.92L1842.14 251.07M1795.29 303.18L1847.39 251.08M1795.29 308.44L1847.39 256.34M1795.29 313.7L1847.39 261.6M1795.29 318.96L1847.39 266.86M1795.29 324.22L1847.39 272.12M1795.29 329.48L1847.39 277.38M1795.29 334.74L1847.39 282.64M1795.29 340L1847.39 287.9M1795.29 345.26L1847.39 293.16M1795.29 350.52L1847.39 298.42M1798.92 352.15L1847.39 303.68M1804.18 352.15L1847.39 308.94M1809.44 352.15L1847.39 314.2M1814.7 352.15L1847.39 319.46M1819.96 352.15L1847.39 324.72M1825.22 352.15L1847.39 329.98M1830.48 352.15L1847.39 335.24M1835.74 352.15L1847.39 340.5M1841 352.15L1847.39 345.76M1846.26 352.15L1847.39 351.02" stroke="#000" stroke-width="1.05" fill="none"/>
<line x1="1795.34" y1="250.47" x2="1795.34" y2="352.15" stroke="#000" stroke-width="1.3"/>
<line x1="1847.34" y1="250.47" x2="1847.34" y2="352.15" stroke="#000" stroke-width="1.3"/>
<line x1="1794.69" y1="251.07" x2="1847.99" y2="251.07" stroke="#000" stroke-width="1.2"/>
<line x1="1899.52" y1="253.48" x2="1899.52" y2="236.3" stroke="#000" stroke-width="1.3"/>
<line x1="1886.62" y1="236.3" x2="1912.42" y2="236.3" stroke="#000" stroke-width="1.2"/>
<rect x="1872.87" y="252.98" width="53.3" height="99.17" fill="#fff"/>
<path d="M1873.47 256.56L1876.45 253.58M1873.47 261.82L1881.71 253.58M1873.47 267.08L1886.97 253.58M1873.47 272.34L1892.23 253.58M1873.47 277.6L1897.49 253.58M1873.47 282.86L1902.75 253.58M1873.47 288.12L1908.01 253.58M1873.47 293.38L1913.27 253.58M1873.47 298.64L1918.53 253.58M1873.47 303.9L1923.79 253.58M1873.47 309.16L1925.57 257.06M1873.47 314.42L1925.57 262.32M1873.47 319.68L1925.57 267.58M1873.47 324.94L1925.57 272.84M1873.47 330.2L1925.57 278.1M1873.47 335.46L1925.57 283.36M1873.47 340.72L1925.57 288.62M1873.47 345.98L1925.57 293.88M1873.47 351.24L1925.57 299.14M1877.82 352.15L1925.57 304.4M1883.08 352.15L1925.57 309.66M1888.34 352.15L1925.57 314.92M1893.6 352.15L1925.57 320.18M1898.86 352.15L1925.57 325.44M1904.12 352.15L1925.57 330.7M1909.38 352.15L1925.57 335.96M1914.64 352.15L1925.57 341.22M1919.9 352.15L1925.57 346.48M1925.16 352.15L1925.57 351.74" stroke="#000" stroke-width="1.05" fill="none"/>
<line x1="1873.52" y1="252.98" x2="1873.52" y2="352.15" stroke="#000" stroke-width="1.3"/>
<line x1="1925.52" y1="252.98" x2="1925.52" y2="352.15" stroke="#000" stroke-width="1.3"/>
<line x1="1872.87" y1="253.58" x2="1926.17" y2="253.58" stroke="#000" stroke-width="1.2"/>
<line x1="1547.6" y1="99.7" x2="1547.6" y2="352.75" stroke="#000" stroke-width="1.3"/>
<line x1="1540" y1="352.15" x2="1939.2" y2="352.15" stroke="#000" stroke-width="1.2"/>
<text x="1537.6" y="358.55" font-size="20" text-anchor="end" textLength="10.84" lengthAdjust="spacingAndGlyphs">0</text>
<line x1="1540" y1="289.19" x2="1547.6" y2="289.19" stroke="#000" stroke-width="1.14"/>
<text x="1537.6" y="295.59" font-size="20" text-anchor="end" textLength="21.68" lengthAdjust="spacingAndGlyphs">20</text>
<line x1="1540" y1="226.22" x2="1547.6" y2="226.22" stroke="#000" stroke-width="1.14"/>
<text x="1537.6" y="232.62" font-size="20" text-anchor="end" textLength="21.68" lengthAdjust="spacingAndGlyphs">40</text>
<line x1="1540" y1="163.26" x2="1547.6" y2="163.26" stroke="#000" stroke-width="1.14"/>
<text x="1537.6" y="169.66" font-size="20" text-anchor="end" textLength="21.68" lengthAdjust="spacingAndGlyphs">60</text>
<line x1="1540" y1="100.3" x2="1547.6" y2="100.3" stroke="#000" stroke-width="1.14"/>
<text x="1537.6" y="106.7" font-size="20" text-anchor="end" textLength="21.68" lengthAdjust="spacingAndGlyphs">80</text>
<line x1="1586.8" y1="352.15" x2="1586.8" y2="359.75" stroke="#000" stroke-width="1.3"/>
<line x1="1664.98" y1="352.15" x2="1664.98" y2="359.75" stroke="#000" stroke-width="1.3"/>
<line x1="1743.16" y1="352.15" x2="1743.16" y2="359.75" stroke="#000" stroke-width="1.3"/>
<line x1="1821.34" y1="352.15" x2="1821.34" y2="359.75" stroke="#000" stroke-width="1.3"/>
<line x1="1899.52" y1="352.15" x2="1899.52" y2="359.75" stroke="#000" stroke-width="1.3"/>
<text x="1586.3" y="383" font-size="16" text-anchor="middle" textLength="32.5" lengthAdjust="spacing">CTR</text>
<text transform="translate(1622.88 383) scale(1 1)" font-size="16" text-anchor="start"><tspan textLength="72">OVA+PM</tspan><tspan dx="1.2" dy="3.5" font-size="11" textLength="10" lengthAdjust="spacingAndGlyphs">10</tspan></text>
<text x="1743.76" y="383" font-size="16" text-anchor="middle" textLength="32.6" lengthAdjust="spacing">DEX</text>
<text x="1821.14" y="383" font-size="16" text-anchor="middle" textLength="37.6" lengthAdjust="spacing">EOM</text>
<text x="1821.34" y="403.4" font-size="16" text-anchor="middle" textLength="50.4" lengthAdjust="spacing">0.0004</text>
<text x="1899.02" y="383" font-size="16" text-anchor="middle" textLength="36.4" lengthAdjust="spacing">EOM</text>
<text x="1899.62" y="403.4" font-size="16" text-anchor="middle" textLength="33" lengthAdjust="spacing">0.04</text>
<text x="1665.7" y="136.85" font-size="18" text-anchor="middle" textLength="31.3" lengthAdjust="spacingAndGlyphs" class="s">###</text>
<text x="1742.9" y="247.1" font-size="15" text-anchor="middle" textLength="19.6" lengthAdjust="spacing" class="a">***</text>
<text x="1821.3" y="231.95" font-size="15" text-anchor="middle" textLength="19.6" lengthAdjust="spacing" class="a">***</text>
<text x="1899.9" y="230.95" font-size="15" text-anchor="middle" textLength="19.6" lengthAdjust="spacing" class="a">***</text>
</g>
<g><!-- IgG2a -->
<text x="1705.3" y="458.8" font-size="21" text-anchor="start">IgG<tspan dy="4.3" font-size="15">2a</tspan></text>
<text transform="translate(1502.7 616.55) rotate(-90)" font-size="21" text-anchor="middle" textLength="174.7" lengthAdjust="spacingAndGlyphs">Serum IgG (ng/mL)</text>
<line x1="1611.9" y1="585.76" x2="1611.9" y2="582.6" stroke="#000" stroke-width="1.15"/>
<line x1="1599" y1="582.6" x2="1624.8" y2="582.6" stroke="#000" stroke-width="1.8"/>
<rect x="1586.4" y="585.26" width="51" height="156.59" fill="#fff"/>
<line x1="1586.98" y1="585.26" x2="1586.98" y2="741.85" stroke="#000" stroke-width="1.15"/>
<line x1="1636.83" y1="585.26" x2="1636.83" y2="741.85" stroke="#000" stroke-width="1.15"/>
<line x1="1586.4" y1="586.16" x2="1637.4" y2="586.16" stroke="#000" stroke-width="1.8"/>
<line x1="1686.73" y1="533.21" x2="1686.73" y2="527.2" stroke="#000" stroke-width="1.15"/>
<line x1="1673.83" y1="527.2" x2="1699.63" y2="527.2" stroke="#000" stroke-width="1.8"/>
<rect x="1661.23" y="532.71" width="51" height="209.14" fill="#000"/>
<line x1="1761.56" y1="589.4" x2="1761.56" y2="582.4" stroke="#000" stroke-width="1.15"/>
<line x1="1748.66" y1="582.4" x2="1774.46" y2="582.4" stroke="#000" stroke-width="1.8"/>
<rect x="1736.06" y="588.9" width="51" height="152.95" fill="#fff"/>
<rect x="1738.06" y="591.55" width="47" height="150.3" fill="#c8c8c8"/>
<line x1="1736.64" y1="588.9" x2="1736.64" y2="741.85" stroke="#000" stroke-width="1.15"/>
<line x1="1786.49" y1="588.9" x2="1786.49" y2="741.85" stroke="#000" stroke-width="1.15"/>
<line x1="1736.06" y1="589.8" x2="1787.06" y2="589.8" stroke="#000" stroke-width="1.8"/>
<line x1="1836.39" y1="560.71" x2="1836.39" y2="554.7" stroke="#000" stroke-width="1.15"/>
<line x1="1823.49" y1="554.7" x2="1849.29" y2="554.7" stroke="#000" stroke-width="1.8"/>
<rect x="1810.89" y="560.21" width="51" height="181.64" fill="#fff"/>
<path d="M1811.49 560.96L1811.64 560.81M1811.49 566.22L1816.9 560.81M1811.49 571.48L1822.16 560.81M1811.49 576.74L1827.42 560.81M1811.49 582L1832.68 560.81M1811.49 587.26L1837.94 560.81M1811.49 592.52L1843.2 560.81M1811.49 597.78L1848.46 560.81M1811.49 603.04L1853.72 560.81M1811.49 608.3L1858.98 560.81M1811.49 613.56L1861.29 563.76M1811.49 618.82L1861.29 569.02M1811.49 624.08L1861.29 574.28M1811.49 629.34L1861.29 579.54M1811.49 634.6L1861.29 584.8M1811.49 639.86L1861.29 590.06M1811.49 645.12L1861.29 595.32M1811.49 650.38L1861.29 600.58M1811.49 655.64L1861.29 605.84M1811.49 660.9L1861.29 611.1M1811.49 666.16L1861.29 616.36M1811.49 671.42L1861.29 621.62M1811.49 676.68L1861.29 626.88M1811.49 681.94L1861.29 632.14M1811.49 687.2L1861.29 637.4M1811.49 692.46L1861.29 642.66M1811.49 697.72L1861.29 647.92M1811.49 702.98L1861.29 653.18M1811.49 708.24L1861.29 658.44M1811.49 713.5L1861.29 663.7M1811.49 718.76L1861.29 668.96M1811.49 724.02L1861.29 674.22M1811.49 729.28L1861.29 679.48M1811.49 734.54L1861.29 684.74M1811.49 739.8L1861.29 690M1814.7 741.85L1861.29 695.26M1819.96 741.85L1861.29 700.52M1825.22 741.85L1861.29 705.78M1830.48 741.85L1861.29 711.04M1835.74 741.85L1861.29 716.3M1841 741.85L1861.29 721.56M1846.26 741.85L1861.29 726.82M1851.52 741.85L1861.29 732.08M1856.78 741.85L1861.29 737.34" stroke="#000" stroke-width="1.45" fill="none"/>
<line x1="1811.47" y1="560.21" x2="1811.47" y2="741.85" stroke="#000" stroke-width="1.15"/>
<line x1="1861.32" y1="560.21" x2="1861.32" y2="741.85" stroke="#000" stroke-width="1.15"/>
<line x1="1810.89" y1="561.11" x2="1861.89" y2="561.11" stroke="#000" stroke-width="1.8"/>
<line x1="1911.22" y1="567.21" x2="1911.22" y2="557.8" stroke="#000" stroke-width="1.15"/>
<line x1="1898.32" y1="557.8" x2="1924.12" y2="557.8" stroke="#000" stroke-width="1.8"/>
<rect x="1885.72" y="566.71" width="51" height="175.14" fill="#fff"/>
<path d="M1886.32 570.29L1889.3 567.31M1886.32 575.55L1894.56 567.31M1886.32 580.81L1899.82 567.31M1886.32 586.07L1905.08 567.31M1886.32 591.33L1910.34 567.31M1886.32 596.59L1915.6 567.31M1886.32 601.85L1920.86 567.31M1886.32 607.11L1926.12 567.31M1886.32 612.37L1931.38 567.31M1886.32 617.63L1936.12 567.83M1886.32 622.89L1936.12 573.09M1886.32 628.15L1936.12 578.35M1886.32 633.41L1936.12 583.61M1886.32 638.67L1936.12 588.87M1886.32 643.93L1936.12 594.13M1886.32 649.19L1936.12 599.39M1886.32 654.45L1936.12 604.65M1886.32 659.71L1936.12 609.91M1886.32 664.97L1936.12 615.17M1886.32 670.23L1936.12 620.43M1886.32 675.49L1936.12 625.69M1886.32 680.75L1936.12 630.95M1886.32 686.01L1936.12 636.21M1886.32 691.27L1936.12 641.47M1886.32 696.53L1936.12 646.73M1886.32 701.79L1936.12 651.99M1886.32 707.05L1936.12 657.25M1886.32 712.31L1936.12 662.51M1886.32 717.57L1936.12 667.77M1886.32 722.83L1936.12 673.03M1886.32 728.09L1936.12 678.29M1886.32 733.35L1936.12 683.55M1886.32 738.61L1936.12 688.81M1888.34 741.85L1936.12 694.07M1893.6 741.85L1936.12 699.33M1898.86 741.85L1936.12 704.59M1904.12 741.85L1936.12 709.85M1909.38 741.85L1936.12 715.11M1914.64 741.85L1936.12 720.37M1919.9 741.85L1936.12 725.63M1925.16 741.85L1936.12 730.89M1930.42 741.85L1936.12 736.15M1935.68 741.85L1936.12 741.41" stroke="#000" stroke-width="1.45" fill="none"/>
<line x1="1886.3" y1="566.71" x2="1886.3" y2="741.85" stroke="#000" stroke-width="1.15"/>
<line x1="1936.14" y1="566.71" x2="1936.14" y2="741.85" stroke="#000" stroke-width="1.15"/>
<line x1="1885.72" y1="567.61" x2="1936.72" y2="567.61" stroke="#000" stroke-width="1.8"/>
<line x1="1574.4" y1="490" x2="1574.4" y2="742.75" stroke="#000" stroke-width="1.3"/>
<line x1="1566.7" y1="741.85" x2="1948.7" y2="741.85" stroke="#000" stroke-width="1.8"/>
<text x="1564.9" y="747.65" font-size="19" text-anchor="end" textLength="10.04" lengthAdjust="spacingAndGlyphs">0</text>
<line x1="1566.7" y1="691.66" x2="1574.4" y2="691.66" stroke="#000" stroke-width="1.71"/>
<text x="1564.9" y="697.46" font-size="19" text-anchor="end" textLength="40.14" lengthAdjust="spacingAndGlyphs">2000</text>
<line x1="1566.7" y1="641.47" x2="1574.4" y2="641.47" stroke="#000" stroke-width="1.71"/>
<text x="1564.9" y="647.27" font-size="19" text-anchor="end" textLength="40.14" lengthAdjust="spacingAndGlyphs">4000</text>
<line x1="1566.7" y1="591.28" x2="1574.4" y2="591.28" stroke="#000" stroke-width="1.71"/>
<text x="1564.9" y="597.08" font-size="19" text-anchor="end" textLength="40.14" lengthAdjust="spacingAndGlyphs">6000</text>
<line x1="1566.7" y1="541.09" x2="1574.4" y2="541.09" stroke="#000" stroke-width="1.71"/>
<text x="1564.9" y="546.89" font-size="19" text-anchor="end" textLength="40.14" lengthAdjust="spacingAndGlyphs">8000</text>
<line x1="1566.7" y1="490.9" x2="1574.4" y2="490.9" stroke="#000" stroke-width="1.71"/>
<text x="1564.9" y="496.7" font-size="19" text-anchor="end" textLength="50.18" lengthAdjust="spacingAndGlyphs">10000</text>
<line x1="1611.9" y1="741.85" x2="1611.9" y2="749.45" stroke="#000" stroke-width="1.15"/>
<line x1="1686.73" y1="741.85" x2="1686.73" y2="749.45" stroke="#000" stroke-width="1.15"/>
<line x1="1761.56" y1="741.85" x2="1761.56" y2="749.45" stroke="#000" stroke-width="1.15"/>
<line x1="1836.39" y1="741.85" x2="1836.39" y2="749.45" stroke="#000" stroke-width="1.15"/>
<line x1="1911.22" y1="741.85" x2="1911.22" y2="749.45" stroke="#000" stroke-width="1.15"/>
<text x="1611.4" y="772.8" font-size="17.2" text-anchor="middle" textLength="35.4" lengthAdjust="spacing">CTR</text>
<text transform="translate(1644.43 772.8) scale(1 1)" font-size="17.2" text-anchor="start"><tspan textLength="70.3">OVA+PM</tspan><tspan dx="2.3" dy="3.2" font-size="12" textLength="11.8" lengthAdjust="spacingAndGlyphs">10</tspan></text>
<text x="1762.06" y="772.8" font-size="17.2" text-anchor="middle" textLength="35.3" lengthAdjust="spacing">DEX</text>
<text x="1835.49" y="772.8" font-size="17.2" text-anchor="middle" textLength="38" lengthAdjust="spacing">EOM</text>
<text x="1835.99" y="793" font-size="17.2" text-anchor="middle" textLength="55" lengthAdjust="spacing">0.0004</text>
<text x="1912.02" y="772.8" font-size="17.2" text-anchor="middle" textLength="37.7" lengthAdjust="spacing">EOM</text>
<text x="1912.02" y="793" font-size="17.2" text-anchor="middle" textLength="34.3" lengthAdjust="spacing">0.04</text>
<text x="1686.75" y="518.35" font-size="17" text-anchor="middle" textLength="10.8" lengthAdjust="spacingAndGlyphs" class="s">#</text>
<text x="1763.25" y="577.3" font-size="15" text-anchor="middle" textLength="12.4" lengthAdjust="spacing" class="a">**</text>
<text x="1879.3" y="518.8" font-size="18.5" text-anchor="middle" textLength="24.5" lengthAdjust="spacing">n.s</text>
<line x1="1818.2" y1="533.5" x2="1933.3" y2="533.5" stroke="#000" stroke-width="1.6"/>
</g>
</svg></body></html>
